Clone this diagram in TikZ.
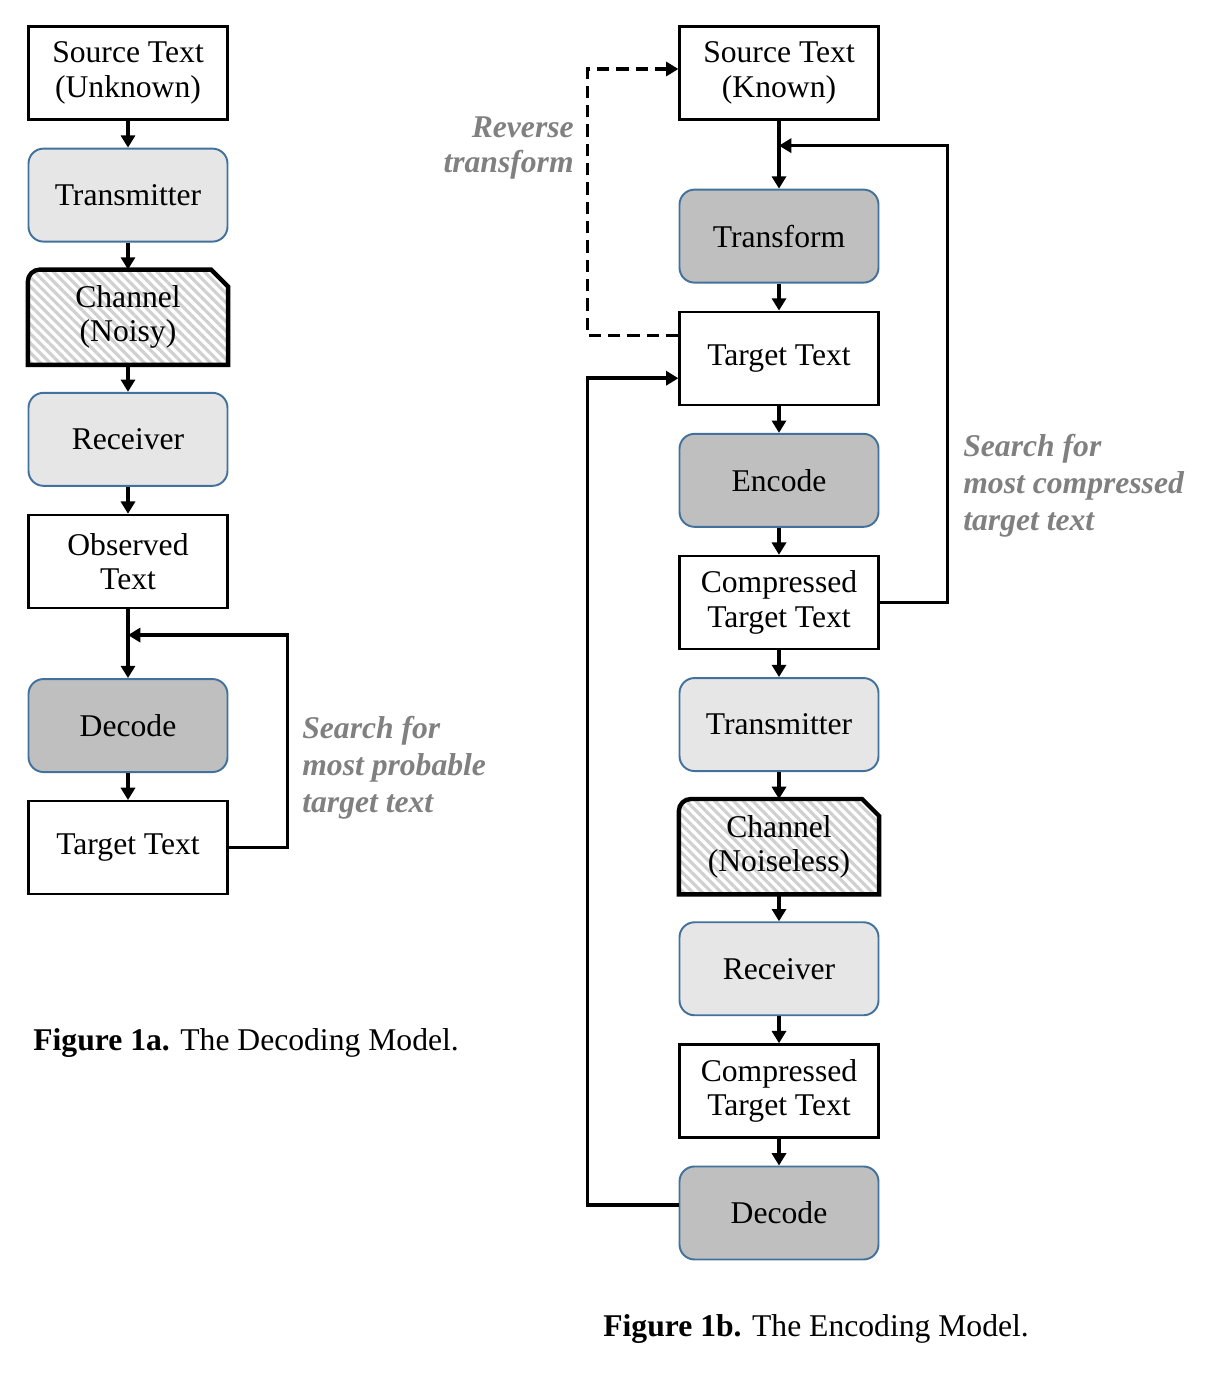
\documentclass[tikz,border=0pt]{standalone}
\usepackage{fontspec}
\setmainfont{Liberation Serif}
\usetikzlibrary{arrows.meta,positioning,calc,backgrounds,patterns.meta}
\definecolor{edgeblue}{RGB}{65,113,156}
\definecolor{lightfill}{RGB}{231,230,230}
\definecolor{darkfill}{RGB}{191,191,191}
\definecolor{hatchgray}{RGB}{208,208,208}
\definecolor{notegray}{RGB}{128,128,128}
\newcommand{\channelshape}[1]{%
  \begin{scope}[on background layer]
    \draw[chanedge] (#1.south west) -- ([yshift=-0.24cm]#1.north west)
      arc[start angle=180, end angle=90, radius=0.24cm]
      -- ([xshift=-0.34cm]#1.north east) -- ([yshift=-0.34cm]#1.north east)
      -- (#1.south east) -- cycle;
  \end{scope}}

\begin{document}
\begin{tikzpicture}[
      font=\fontsize{18}{19.5}\selectfont,
      node distance=0.54cm,
      arr/.style={-{Triangle[length=7pt,width=8pt]}, line width=2pt},
      textbox/.style={draw, line width=1.3pt, fill=white, align=center,
                      minimum width=3.98cm, minimum height=1.86cm, inner sep=0pt},
      softbox/.style={textbox, draw=edgeblue, line width=1.1pt,
                      rounded corners=0.3cm, fill=lightfill},
      hardbox/.style={softbox, fill=darkfill},
      chanbox/.style={textbox, draw=none, fill=none,
                      minimum width=3.96cm, minimum height=1.86cm},
      chanedge/.style={line width=2.5pt, preaction={fill=white},
                       pattern={Lines[angle=-45,distance=3.8pt,line width=1.8pt]},
                       pattern color=hatchgray},
      note/.style={text=notegray, inner sep=0pt, align=left,
                   font=\fontsize{18}{21}\selectfont\bfseries\itshape}
    ]
    \useasboundingbox (0,0) rectangle (24.36,-27.6);
    % decoding model
    \node[textbox] (srcA) at (2.56,-1.46) {Source Text\\(Unknown)};
    \node[softbox, below=of srcA] (txA) {Transmitter};
    \node[chanbox, below=of txA] (chA) {Channel\\(Noisy)};
    \node[softbox, below=of chA] (rxA) {Receiver};
    \node[textbox, below=of rxA] (obsA) {Observed\\Text};
    \node[hardbox, below=1.38cm of obsA] (decA) {Decode};
    \node[textbox, below=of decA] (tgtA) {Target Text};
    \channelshape{chA}
    \draw[arr] (srcA) -- (txA);
    \draw[arr] (txA) -- (chA);
    \draw[arr] (chA) -- (rxA);
    \draw[arr] (rxA) -- (obsA);
    \draw[arr] (obsA) -- (decA);
    \draw[arr] (decA) -- (tgtA);
    \coordinate (joinA) at ([yshift=-0.52cm]obsA.south);
    \draw[arr] (tgtA.east) -- ++(1.18,0) |- (joinA);
    \node[note, anchor=west] (searchA) at (6.04,-15.36) {Search for\\most probable\\target text};
    \node[anchor=west, inner sep=0pt] (capA) at (0.66,-20.86) {\textbf{Figure 1a.} The Decoding Model.};
    % encoding model
    \node[textbox] (srcB) at (15.58,-1.46) {Source Text\\(Known)};
    \node[hardbox, below=1.36cm of srcB] (trB) {Transform};
    \node[textbox, below=of trB] (tgtB) {Target Text};
    \node[hardbox, below=of tgtB] (encB) {Encode};
    \node[textbox, below=of encB] (cmpB) {Compressed\\Target Text};
    \node[softbox, below=of cmpB] (txB) {Transmitter};
    \node[chanbox, below=of txB] (chB) {Channel\\(Noiseless)};
    \node[softbox, below=of chB] (rxB) {Receiver};
    \node[textbox, below=of rxB] (cmpBB) {Compressed\\Target Text};
    \node[hardbox, below=of cmpBB] (decB) {Decode};
    \channelshape{chB}
    \draw[arr] (srcB) -- (trB);
    \draw[arr] (trB) -- (tgtB);
    \draw[arr] (tgtB) -- (encB);
    \draw[arr] (encB) -- (cmpB);
    \draw[arr] (cmpB) -- (txB);
    \draw[arr] (txB) -- (chB);
    \draw[arr] (chB) -- (rxB);
    \draw[arr] (rxB) -- (cmpBB);
    \draw[arr] (cmpBB) -- (decB);
    \coordinate (joinB) at ([yshift=-0.5cm]srcB.south);
    \draw[arr] (cmpB.east) -- ++(1.36,0) |- (joinB);
    \draw[arr, dash pattern=on 7pt off 4pt] ([yshift=-0.5cm]tgtB.north west) -- ++(-1.82,0) |- ([yshift=0.08cm]srcB.west);
    \coordinate (backB) at ([yshift=-0.4cm]tgtB.west);
    \draw[arr] ([yshift=0.16cm]decB.west) -- ++(-1.82,0) |- (backB);
    \node[note, anchor=east, align=right, font=\fontsize{18}{19.5}\selectfont\bfseries\itshape]
      (revnote) at (11.48,-2.96) {Reverse\\transform};
    \node[note, anchor=west] (searchB) at (19.26,-9.72) {Search for\\most compressed\\target text};
    \node[anchor=west, inner sep=0pt] (capB) at (12.06,-26.58) {\textbf{Figure 1b.} The Encoding Model.};
  \end{tikzpicture}
\end{document}
